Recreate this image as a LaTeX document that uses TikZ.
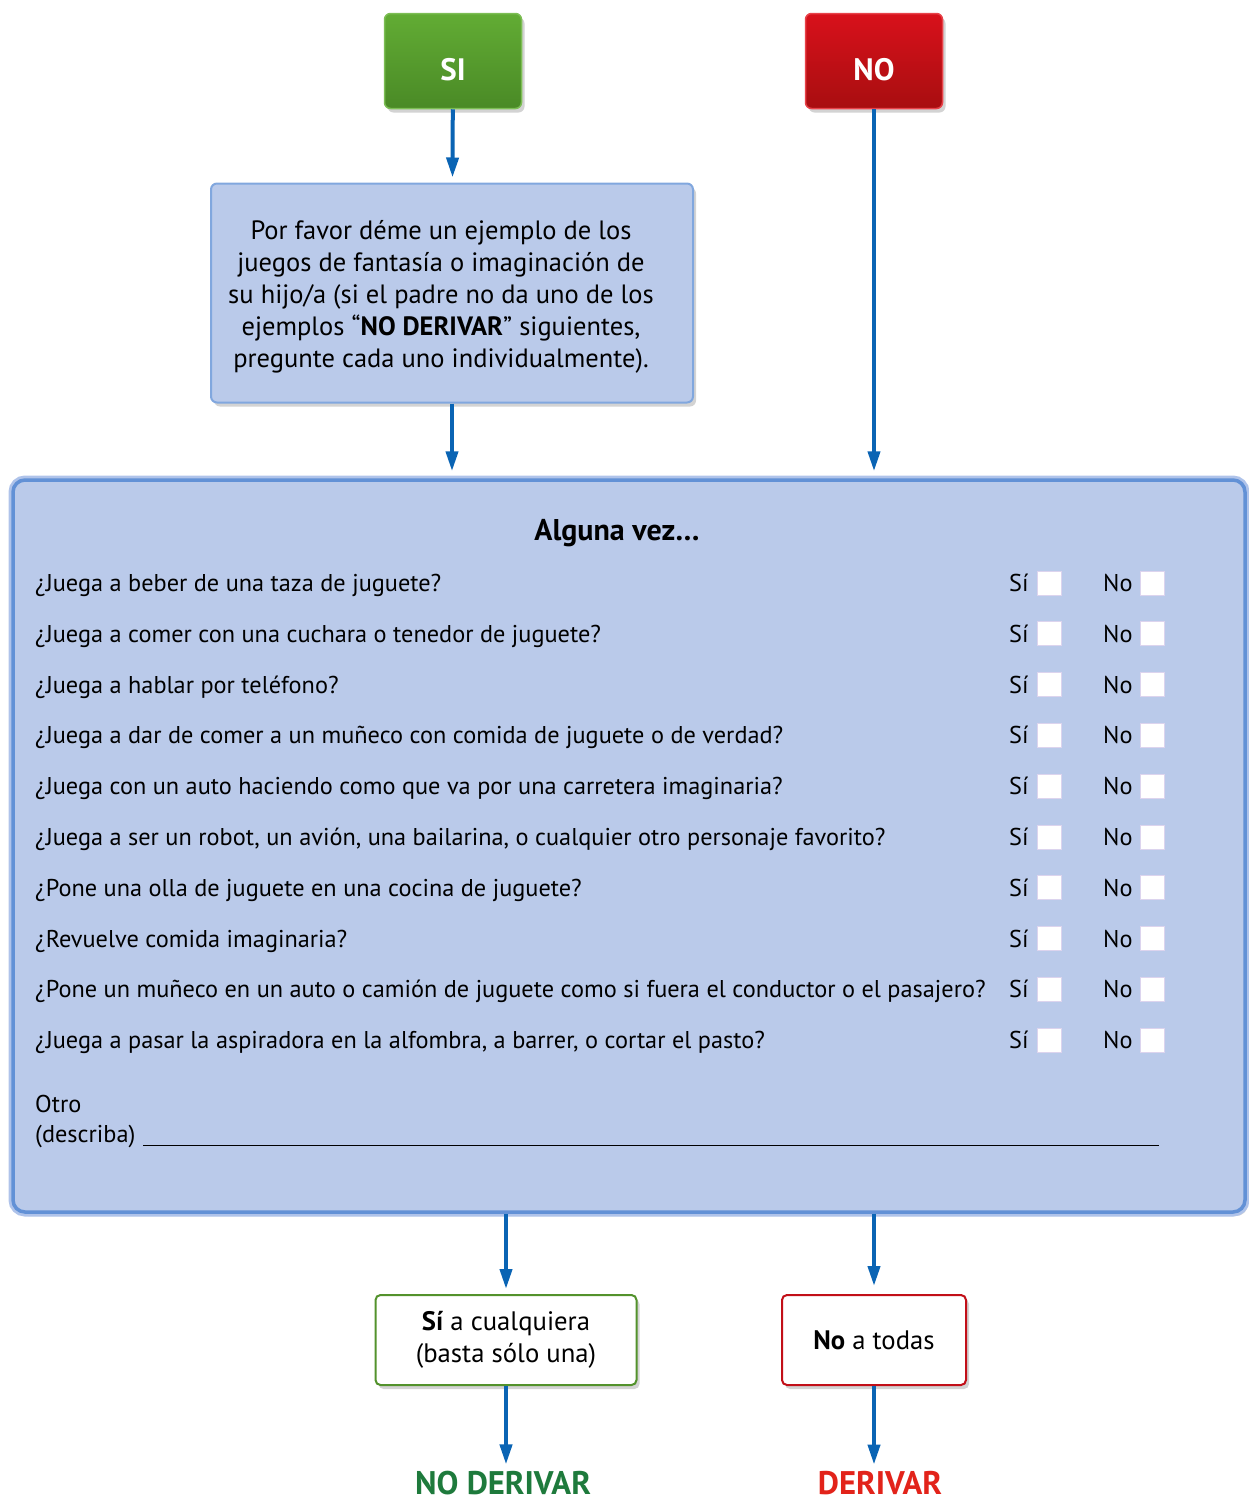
\documentclass[tikz,border=0pt]{standalone}
\usepackage{fontspec}
\setmainfont{PT Sans}
\usetikzlibrary{arrows.meta,shadows}

\definecolor{flowblue}{HTML}{0A64B4}
\definecolor{boxblue}{HTML}{BACAEA}
\definecolor{edgeblue}{HTML}{6291D6}
\definecolor{rimblue}{HTML}{AFC3EA}
\definecolor{sigreen}{HTML}{62AC34}
\definecolor{sigreendark}{HTML}{4A8A26}
\definecolor{siedge}{HTML}{7DBE55}
\definecolor{nored}{HTML}{D8111B}
\definecolor{noreddark}{HTML}{A80E10}
\definecolor{noedge}{HTML}{E8434A}
\definecolor{outgreen}{HTML}{1E7A3C}
\definecolor{outred}{HTML}{E2231A}
\definecolor{tickedge}{HTML}{DCD4EE}

\newcommand\qsize{\fontsize{24.3}{28}\selectfont}

\begin{document}
\begin{tikzpicture}[x=1pt, y=-1pt,
  softshadow/.style={drop shadow={shadow xshift=3pt, shadow yshift=-4pt, opacity=0.35}},
  flow/.style={draw=flowblue, line width=4pt, -{Triangle[length=20pt, width=12pt]}},
  choice/.style={softshadow, rounded corners=6pt, line width=1.5pt, minimum width=137pt,
    minimum height=95pt, text height=38pt, text depth=0pt, text=white,
    font=\fontsize{31}{33}\selectfont\bfseries},
  askbox/.style={softshadow, rounded corners=6pt, fill=boxblue, draw=edgeblue!80, line width=2pt,
    minimum width=482pt, minimum height=219pt},
  mainbox/.style={softshadow, preaction={draw=rimblue, line width=9pt}, rounded corners=12pt,
    fill=boxblue, draw=edgeblue, line width=3.5pt, minimum width=1232pt, minimum height=732pt},
  qtext/.style={anchor=base west, inner sep=0pt, font=\qsize},
  tick/.style={fill=white, draw=tickedge, line width=1pt, minimum size=24pt, inner sep=0pt},
  result/.style={softshadow, rounded corners=5pt, fill=white, line width=2pt, minimum height=90pt,
    align=center, font=\fontsize{26.7}{32}\selectfont},
  verdict/.style={anchor=base, inner sep=0pt, font=\fontsize{32.7}{36}\selectfont\bfseries}]

  \useasboundingbox (0,0) rectangle (1249,1500);

  % top choices
  \node[choice, top color=sigreen, bottom color=sigreendark, draw=siedge] (si) at (453,61) {SI};
  \node[choice, top color=nored, bottom color=noreddark, draw=noedge] (no) at (874,61) {NO};

  \node[askbox] (ask) at (452,293) {};
  \node[align=center, font=\fontsize{26.5}{32}\selectfont] (asktext) at (441,297)
    {Por favor déme un ejemplo de los\\
    juegos de fantasía o imaginación de\\
    su hijo/a (si el padre no da uno de los\\
    ejemplos “\textbf{NO DERIVAR}” siguientes,\\
    pregunte cada uno individualmente).};

  \node[mainbox] (main) at (629,846) {};

  \draw[flow, shorten >=5pt] (si) -- (ask);
  \draw[flow, shorten >=7pt] (ask) -- (ask |- main.north);
  \draw[flow, shorten >=7pt] (no) -- (no |- main.north);

  % questions
  \node[font=\fontsize{30}{32}\selectfont\bfseries] (title) at (617,533) {Alguna vez…};
  \foreach \txt [count=\i] in {
    {¿Juega a beber de una taza de juguete?},
    {¿Juega a comer con una cuchara o tenedor de juguete?},
    {¿Juega a hablar por teléfono?},
    {¿Juega a dar de comer a un muñeco con comida de juguete o de verdad?},
    {¿Juega con un auto haciendo como que va por una carretera imaginaria?},
    {¿Juega a ser un robot, un avión, una bailarina, o cualquier otro personaje favorito?},
    {¿Pone una olla de juguete en una cocina de juguete?},
    {¿Revuelve comida imaginaria?},
    {¿Pone un muñeco en un auto o camión de juguete como si fuera el conductor o el pasajero?},
    {¿Juega a pasar la aspiradora en la alfombra, a barrer, o cortar el pasto?}}{
    \pgfmathsetmacro\yq{583+(\i-1)*50.8}
    \node[qtext] (q\i) at (35,\yq+8.5) {\txt};
    \node[qtext] (sil\i) at (1009,\yq+8.5) {Sí};
    \node[tick] (sib\i) at (1049,\yq) {};
    \node[qtext] (nol\i) at (1103,\yq+8.5) {No};
    \node[tick] (nob\i) at (1152,\yq) {};
  }

  \node[qtext] (otro) at (35,1112) {Otro};
  \node[qtext] (describa) at (35,1142) {(describa)};
  \coordinate (linestart) at (143,1145);
  \coordinate (lineend) at (1159,1145);
  \draw[line width=1pt] (linestart) -- (lineend);

  % outcomes
  \node[result, draw=sigreen!85!black, minimum width=261pt] (yes) at (506,1340)
    {\textbf{Sí} a cualquiera\\(basta sólo una)};
  \node[result, draw=nored!90!black, minimum width=184pt] (none) at (874,1340)
    {\textbf{No} a todas};

  \draw[flow, shorten >=5pt] (yes |- main.south) -- (yes);
  \draw[flow, shorten >=8pt] (none |- main.south) -- (none);

  \node[verdict, text=outgreen] (noderivar) at (503,1494) {NO DERIVAR};
  \node[verdict, text=outred] (derivar) at (880,1494) {DERIVAR};
  \draw[flow, shorten >=6pt] (yes) -- (yes |- noderivar.north);
  \draw[flow, shorten >=6pt] (none) -- (none |- derivar.north);
\end{tikzpicture}
\end{document}
